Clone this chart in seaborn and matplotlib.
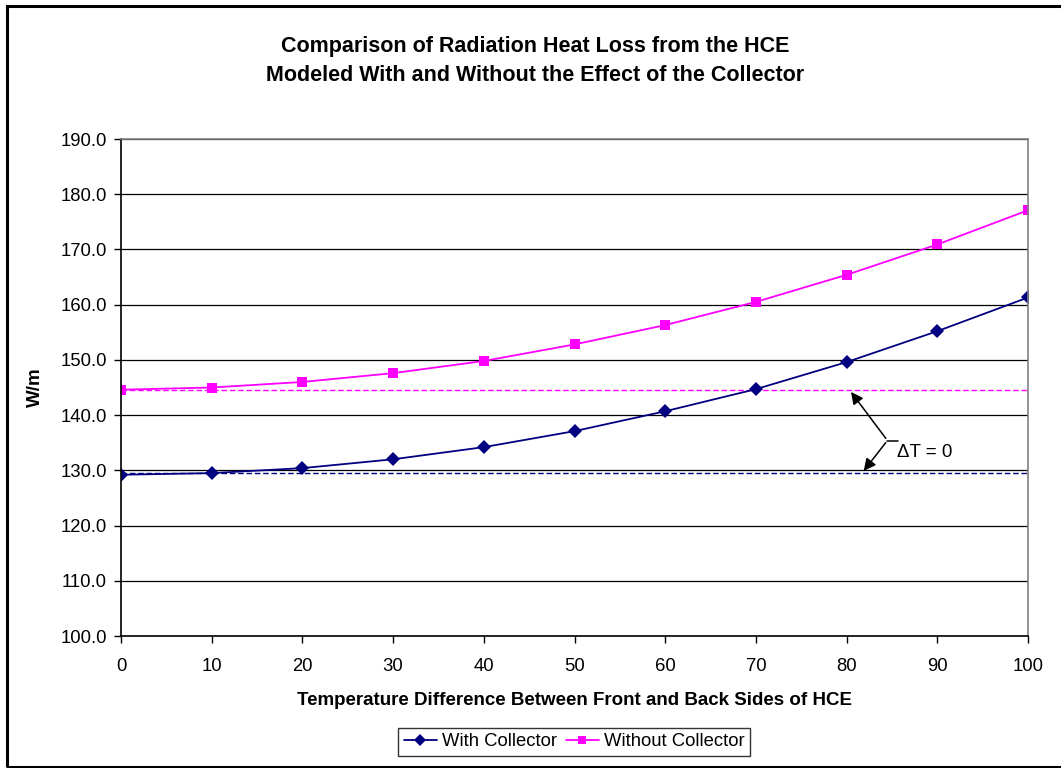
import matplotlib
matplotlib.use("Agg")
import matplotlib.pyplot as plt
import seaborn as sns
import pandas as pd
from matplotlib.patches import Rectangle
from matplotlib.lines import Line2D

delta_t = [0, 10, 20, 30, 40, 50, 60, 70, 80, 90, 100]
with_collector = [129.2, 129.5, 130.4, 132.0, 134.2, 137.1, 140.7, 144.7, 149.6, 155.2, 161.3]
without_collector = [144.6, 145.0, 146.0, 147.6, 149.8, 152.8, 156.3, 160.5, 165.4, 170.9, 177.1]
baseline_with = 129.5
baseline_without = 144.6
series_names = ["With Collector", "Without Collector"]
y_ticks = [100, 110, 120, 130, 140, 150, 160, 170, 180, 190]

sns.set_theme(style="white")
plt.rcParams['font.family'] = ['Liberation Sans', 'DejaVu Sans']
plt.rcParams['text.color'] = 'black'
plt.rcParams['axes.labelcolor'] = 'black'
plt.rcParams['xtick.color'] = 'black'
plt.rcParams['ytick.color'] = 'black'

df = pd.DataFrame({
    "dT": delta_t * 2,
    "val": with_collector + without_collector,
    "series": [series_names[0]] * len(delta_t) + [series_names[1]] * len(delta_t),
})

fig = plt.figure(figsize=(10.61, 7.68), dpi=100)
ax = fig.add_axes([121/1061, 1 - 636/768, (1028-121)/1061, (636-139)/768])

palette = {series_names[0]: "#000080", series_names[1]: "#FF00FF"}
sns.lineplot(data=df, x="dT", y="val", hue="series", style="series",
             markers={series_names[0]: "D", series_names[1]: "s"},
             dashes=False, palette=palette, ax=ax, linewidth=1.3,
             markersize=7, markeredgewidth=0, legend=False)

ax.axhline(baseline_without, color="#FF00FF", linestyle=(0, (4, 2)), linewidth=1.0, zorder=1)
ax.axhline(baseline_with, color="#000080", linestyle=(0, (4, 2)), linewidth=1.0, zorder=1)

ax.set_xlim(0, 100)
ax.set_ylim(100, 190)
ax.set_xticks(delta_t)
ax.set_yticks(y_ticks)
ax.set_yticklabels([f"{v:.1f}" for v in y_ticks])
ax.yaxis.grid(True, color="black", linewidth=0.9)
ax.set_axisbelow(True)
ax.tick_params(axis="both", which="major", direction="out", length=5, width=1,
               color="black", labelcolor="black", labelsize=13.3, bottom=True, left=True)
ax.tick_params(axis="x", pad=11)
ax.tick_params(axis="y", pad=5)
for s in ["left", "bottom"]:
    ax.spines[s].set_color("black")
    ax.spines[s].set_linewidth(1.2)
for s in ["right", "top"]:
    ax.spines[s].set_color("#808080")
    ax.spines[s].set_linewidth(1.2)

ax.set_xlabel("Temperature Difference Between Front and Back Sides of HCE",
              fontsize=13.5, fontweight="bold", labelpad=12)
ax.set_ylabel("W/m", fontsize=13.5, fontweight="bold", labelpad=12)

fig.text(535/1061, 1 - 61/768,
         "Comparison of Radiation Heat Loss from the HCE\nModeled With and Without the Effect of the Collector",
         ha="center", va="center", fontsize=15.5, fontweight="bold", linespacing=1.55)

# annotation
ax.annotate("", xy=(80.3, baseline_without), xytext=(84.5, 135.4),
            arrowprops=dict(arrowstyle="-|>", color="black", lw=1.1, mutation_scale=18))
ax.annotate("", xy=(81.7, baseline_with), xytext=(84.5, 135.4),
            arrowprops=dict(arrowstyle="-|>", color="black", lw=1.1, mutation_scale=18))
ax.plot([84.5, 85.7], [135.4, 135.4], color="black", lw=1.1)
ax.text(85.6, 133.2, "ΔT = 0", fontsize=13.5, ha="left", va="center")

# legend
handles = [Line2D([], [], color="#000080", marker="D", markersize=6, lw=1.3, markeredgewidth=0),
           Line2D([], [], color="#FF00FF", marker="s", markersize=6, lw=1.3, markeredgewidth=0)]
leg = fig.legend(handles, series_names, loc="center", bbox_to_anchor=(574/1061, 1 - 742/768),
                 ncol=2, fontsize=13.3, frameon=True, fancybox=False, handlelength=1.8,
                 handletextpad=0.25, columnspacing=0.5, borderpad=0.3, borderaxespad=0)
leg.get_frame().set_edgecolor("black")
leg.get_frame().set_linewidth(1.0)

fig.patches.append(Rectangle((7/1061, 1/768), 1.1, 1 - 7/768, transform=fig.transFigure,
                             fill=False, edgecolor="black", linewidth=2.2, clip_on=False))

fig.savefig("out.png", dpi=100)
